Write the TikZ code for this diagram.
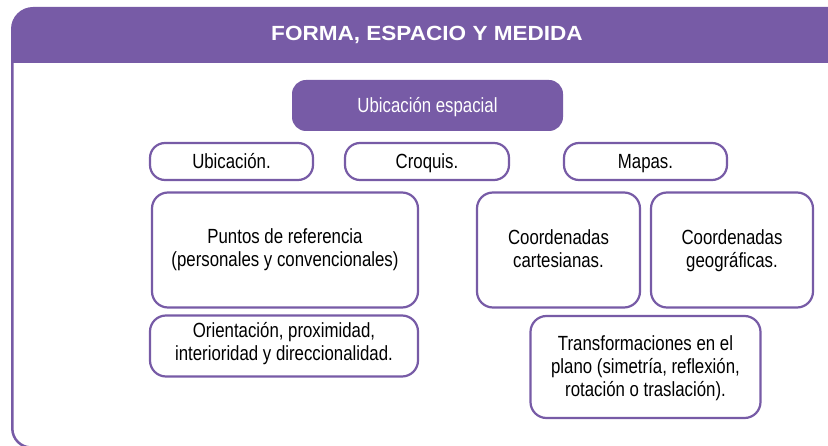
\documentclass[tikz,border=0pt]{standalone}
\usepackage{fontspec}
\setmainfont[FakeStretch=0.82]{Liberation Sans}
\newfontfamily\titlefont[FakeStretch=1.1]{Liberation Sans}
\definecolor{purp}{HTML}{775BA6}
\begin{document}
\begin{tikzpicture}[x=1pt,y=-1pt,
  box/.style={draw=purp,line width=2.2pt,fill=white,rounded corners=16pt,align=center,inner sep=0pt,
    font=\fontsize{20.5}{23}\selectfont,text=black,text height=14.5pt,text depth=0pt},
  pill/.style={box,rounded corners=15pt},
  twolines/.style={text height=37.5pt},
  threelines/.style={text height=60.5pt},
  headbox/.style={fill=purp,draw=none,rounded corners=14pt,align=center,inner sep=0pt,
    font=\fontsize{20.5}{23}\selectfont,text=white,text height=14.5pt,text depth=0pt},
  titletext/.style={font=\titlefont\fontsize{20.5}{24}\bfseries\selectfont,text=white,inner sep=0pt,
    text height=14.5pt,text depth=0pt}]
\useasboundingbox (0,0) rectangle (828,446);
\begin{scope}
\clip (0,0) rectangle (828,446);
% header band
\fill[purp,rounded corners=22pt] (11,63) -- (11,7) -- (860,7) [sharp corners] -- (860,63) -- cycle;
% frame
\draw[purp,line width=2.5pt,rounded corners=19pt] (12.3,62) -- (12.3,447.5) -- (860,447.5);
\end{scope}
\node[titletext] (title) at (427,33) {FORMA, ESPACIO Y MEDIDA};
\node[headbox,minimum width=271pt,minimum height=51pt] (ue) at (427.5,105.5) {Ubicación espacial};
\node[pill,minimum width=163pt,minimum height=37pt] (ubi) at (231.5,161.5) {Ubicación.};
\node[pill,minimum width=164pt,minimum height=37pt] (cro) at (427,161.5) {Croquis.};
\node[pill,minimum width=163pt,minimum height=37pt] (map) at (645.5,161.5) {Mapas.};
\node[box,twolines,minimum width=266pt,minimum height=115pt,text depth=5pt] (pun) at (285,250) {Puntos de referencia\\(personales y convencionales)};
\node[box,twolines,minimum width=163pt,minimum height=115pt,text depth=3pt] (car) at (558.5,250) {Coordenadas\\cartesianas.};
\node[box,twolines,minimum width=162pt,minimum height=115pt,text depth=3pt] (geo) at (732,250) {Coordenadas\\geográficas.};
\node[box,twolines,minimum width=268pt,minimum height=61pt,text depth=9pt] (ori) at (284,346) {Orientación, proximidad,\\interioridad y direccionalidad.};
\node[box,threelines,minimum width=230pt,minimum height=102pt,text depth=2pt] (tra) at (645.5,367) {Transformaciones en el\\plano (simetría, reflexión,\\rotación o traslación).};
\end{tikzpicture}
\end{document}
